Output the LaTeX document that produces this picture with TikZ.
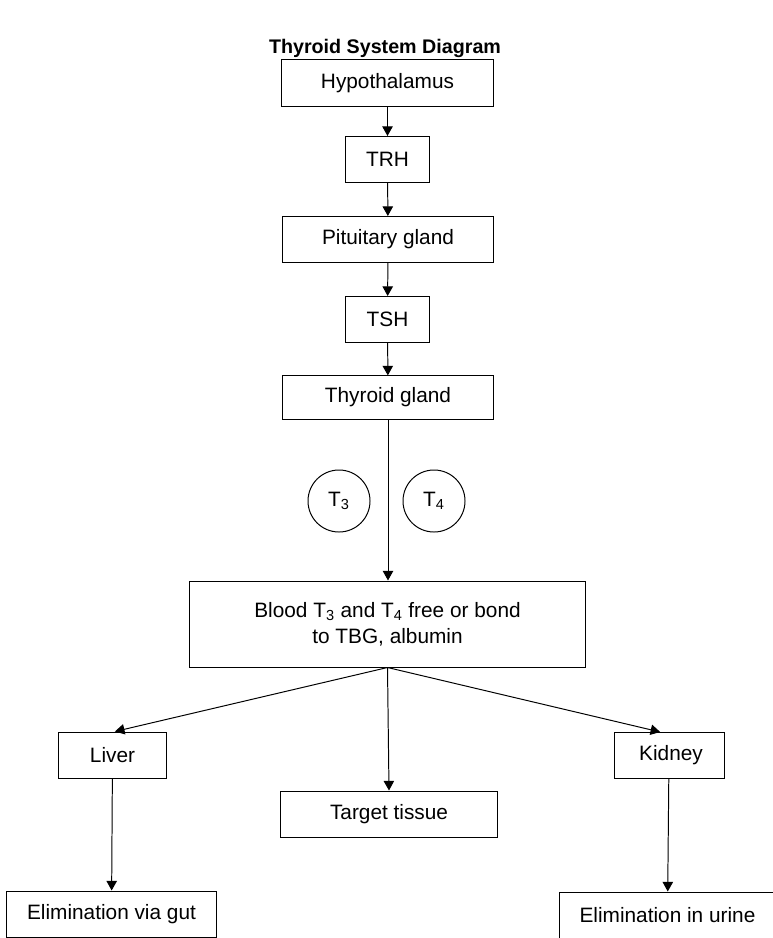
\documentclass[tikz,border=0pt]{standalone}
\usepackage{fontspec}
\setmainfont{Liberation Sans}
\usetikzlibrary{arrows.meta}
\tikzset{
  box/.style    = {draw, rectangle, align=center, inner sep=2pt,
                   line width=0.7pt, minimum height=1.15cm,
                   font=\fontsize{14.8}{18.5}\selectfont},
  hormone/.style= {draw, circle, minimum size=1.55cm, inner sep=0pt,
                   line width=0.7pt, font=\fontsize{14.8}{18.5}\selectfont},
  flow/.style   = {-{Triangle[length=2.4mm,width=2.6mm]}, line width=0.7pt}
}
\begin{document}
\begin{tikzpicture}[x=0.025cm, y=-0.025cm]
\useasboundingbox (0,0) rectangle (772,938);
% ---- Title ----
\node[font=\fontsize{14}{16}\selectfont\bfseries] (title) at (385,48) {Thyroid System Diagram};

% ---- Control axis ----
\node[box, minimum width=5.275cm] (hyp) at (387.5,83)  {Hypothalamus};
\node[box, minimum width=2.1cm]   (trh) at (387.5,159.5) {TRH};
\node[box, minimum width=5.25cm]  (pit) at (388,239.5) {Pituitary gland};
\node[box, minimum width=2.1cm]   (tsh) at (387.5,319.5) {TSH};
\node[box, minimum width=5.25cm, minimum height=1.08cm] (thy) at (388,397.5) {Thyroid gland};

% ---- Hormones ----
\node[hormone] (t3) at (339,501) {T\textsubscript{3}};
\node[hormone] (t4) at (434,501) {T\textsubscript{4}};

% ---- Blood and targets ----
\node[box, minimum width=9.875cm, minimum height=2.15cm] (blood) at (387.5,624)
  {Blood T\textsubscript{3} and T\textsubscript{4} free or bond\\to TBG, albumin};
\node[box, minimum width=2.675cm] (liver)  at (112.5,755) {Liver};
\node[box, minimum width=2.75cm]  (kidney) at (669,755.5) {\hspace{0.1cm}Kidney};
\node[box, minimum width=5.4cm]   (target) at (389,814) {Target tissue};
\node[box, minimum width=5.225cm] (gut)    at (111.5,914) {Elimination via gut};
\node[box, minimum width=5.375cm] (urine)  at (667.5,915) {Elimination in urine};

% ---- Connectors ----
\draw[flow] (hyp) -- (trh);
\draw[flow] (trh) -- (pit);
\draw[flow] (pit) -- (tsh);
\draw[flow] (tsh) -- (thy);
\draw[flow] (thy.south) -- (thy.south |- blood.north);
\draw[flow] (blood.south) -- ([xshift=0.06cm]liver.north);
\draw[flow] (blood.south) -- ([xshift=-0.22cm]kidney.north);
\draw[flow] (blood.south) -- (target.north);
\draw[flow] (liver) -- (gut);
\draw[flow] (kidney) -- (urine);
\end{tikzpicture}
\end{document}
